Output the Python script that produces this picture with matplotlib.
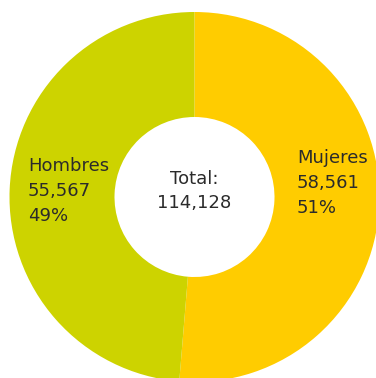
import matplotlib
matplotlib.use('Agg')
import matplotlib.pyplot as plt

# Poblacion por sexo
labels = ['Mujeres', 'Hombres']
values = [58561, 55567]
percents = ['51%', '49%']
total = 114128
colors = ['#FFCC00', '#CDD300']

plt.rcParams['font.family'] = ['DejaVu Sans']

W, H = 376, 378
fig = plt.figure(figsize=(W / 100, H / 100), dpi=100)
ax = fig.add_axes([0, 0, 1, 1])

cx, cy = 194.5, H - 197
R, r = 185, 80
ax.pie(values, colors=colors, startangle=90, counterclock=False,
       center=(cx, cy), radius=R, frame=True,
       wedgeprops=dict(width=R - r, linewidth=0))
ax.set_xlim(0, W)
ax.set_ylim(0, H)
ax.set_aspect('equal')
ax.axis('off')

txt = '#2b2b2b'
fs = 13
ax.text(297, H - 183, '%s\n%s\n%s' % (labels[0], format(values[0], ','), percents[0]),
        ha='left', va='center', fontsize=fs, color=txt, linespacing=1.5)
ax.text(28, H - 191, '%s\n%s\n%s' % (labels[1], format(values[1], ','), percents[1]),
        ha='left', va='center', fontsize=fs, color=txt, linespacing=1.5)
ax.text(cx, H - 191, 'Total:\n%s' % format(total, ','),
        ha='center', va='center', fontsize=fs, color=txt, linespacing=1.5)

plt.savefig('out.png', dpi=100)
